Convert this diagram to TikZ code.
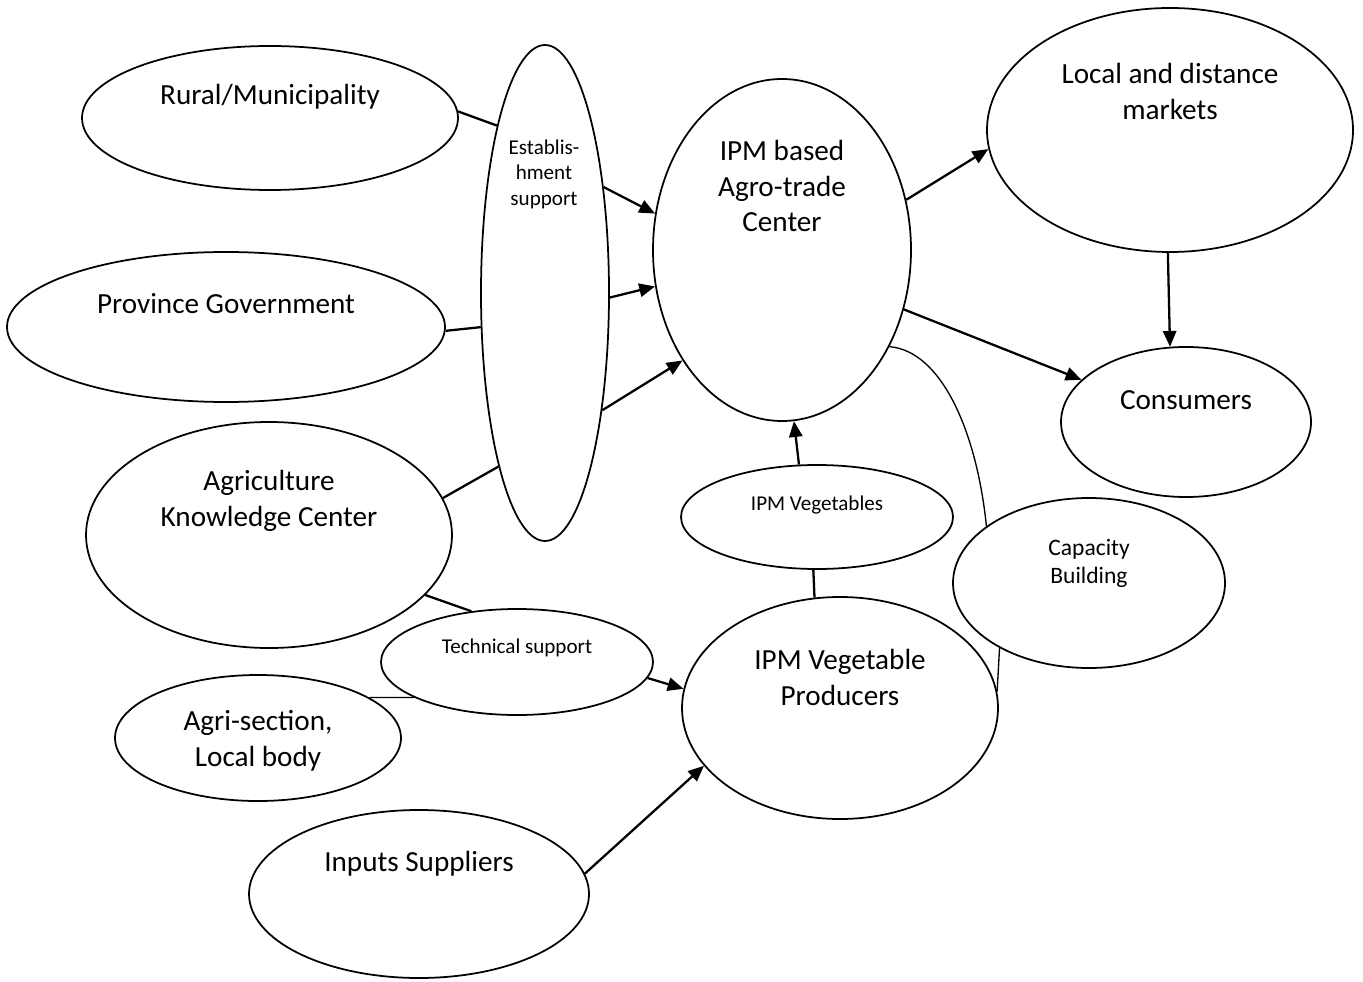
\documentclass[tikz,border=0pt]{standalone}
\usepackage{fontspec}
\setmainfont{Carlito}
\usepackage{tikz}
\usetikzlibrary{arrows.meta,shapes.geometric}

\tikzset{
  bubble/.style={draw, ellipse, line width=0.5pt, inner sep=0pt},
  caption/.style={align=center, yshift=-0.6pt, font=\fontsize{8.3}{10.2}\selectfont},
  smallcap/.style={align=center, yshift=-0.6pt, font=\fontsize{6}{7.3}\selectfont},
  link/.style={line width=0.65pt},
  softline/.style={line width=0.38pt},
  flow/.style={line width=0.65pt, -{Triangle[length=4.5pt,width=3.8pt]}}
}

\begin{document}
\begin{tikzpicture}
         \useasboundingbox (0,0) rectangle (13.63,-9.82);

         % left side bubbles
         \node[bubble, minimum width=3.76cm, minimum height=1.44cm] (rural) at (2.70,-1.18) {};
         \node[bubble, minimum width=4.38cm, minimum height=1.50cm] (prov) at (2.26,-3.27) {};
         \node[bubble, minimum width=3.66cm, minimum height=2.26cm] (akc) at (2.69,-5.35) {};
         \node[bubble, minimum width=2.86cm, minimum height=1.26cm] (agrisec) at (2.58,-7.38) {};
         \node[bubble, minimum width=3.40cm, minimum height=1.68cm] (inputs) at (4.19,-8.94) {};

         % support bubbles
         \node[bubble, minimum width=1.28cm, minimum height=4.96cm] (est) at (5.45,-2.93) {};
         \node[bubble, minimum width=2.72cm, minimum height=1.06cm] (tech) at (5.17,-6.62) {};
         \node[bubble, minimum width=2.72cm, minimum height=1.04cm] (veg) at (8.17,-5.17) {};
         \node[bubble, minimum width=2.72cm, minimum height=1.70cm] (cap) at (10.89,-5.83) {};

         % center and right bubbles
         \node[bubble, minimum width=2.58cm, minimum height=3.42cm] (agro) at (7.82,-2.50) {};
         \node[bubble, minimum width=3.16cm, minimum height=2.22cm] (prod) at (8.40,-7.08) {};
         \node[bubble, minimum width=3.66cm, minimum height=2.44cm] (markets) at (11.70,-1.30) {};
         \node[bubble, minimum width=2.50cm, minimum height=1.50cm] (cons) at (11.86,-4.22) {};

         % texts
         \node[caption] (ruralT) at (2.70,-0.95) {Rural/Municipality};
         \node[caption] (provT) at (2.26,-3.01) {Province Government};
         \node[caption] (akcT) at (2.69,-4.99) {Agriculture\\Knowledge Center};
         \node[caption] (agrisecT) at (2.58,-7.39) {Agri-section,\\Local body};
         \node[caption] (inputsT) at (4.19,-8.62) {Inputs Suppliers};
         \node[smallcap] (estT) at (5.44,-1.72) {Establis-\\hment\\support};
         \node[smallcap] (techT) at (5.17,-6.46) {Technical support};
         \node[smallcap] (vegT) at (8.17,-5.03) {IPM Vegetables};
         \node[smallcap, font=\fontsize{6.7}{8}\selectfont] (capT) at (10.89,-5.61) {Capacity\\Building};
         \node[caption] (agroT) at (7.82,-1.84) {IPM based\\Agro-trade\\Center};
         \node[caption] (prodT) at (8.40,-6.75) {IPM Vegetable\\Producers};
         \node[caption] (marketsT) at (11.70,-0.89) {Local and distance\\markets};
         \node[caption] (consT) at (11.86,-3.98) {Consumers};

         % into establishment support
         \draw[link] (rural.2) -- (est.106);
         \draw[link] (prov.-1) -- (est.-152);
         \draw[link] (akc.12) -- (est.-105);
         \draw[flow] (est.61) -- (agro.164);
         \draw[flow] (est.-4) -- (agro.196);
         \draw[flow] (est.-64) -- (agro.-132);

         % into technical support
         \draw[link] (akc.-21) -- (tech.132);
         \draw[softline] (agrisec.20) -- (tech.-161);
         \draw[flow] (tech.-7) -- (prod.173);
         \draw[flow] (inputs.7) -- (prod.-157);

         % producers up to the center
         \draw[link] (prod.103) -- (veg.-94);
         \draw[flow] (veg.109) -- (agro.-86);

         % markets
         \draw[flow] (agro.22) -- (markets.186);
         \draw[flow] (agro.-26) -- (cons.158);
         \draw[flow] (markets.-91) -- (cons.102);

         % capacity building
         \draw[softline] (agro.-42) .. controls +(0.51,-0.04) and +(-0.10,0.97) .. (cap.151);
         \draw[softline] (cap.-144) -- (prod.6);
      \end{tikzpicture}
\end{document}
